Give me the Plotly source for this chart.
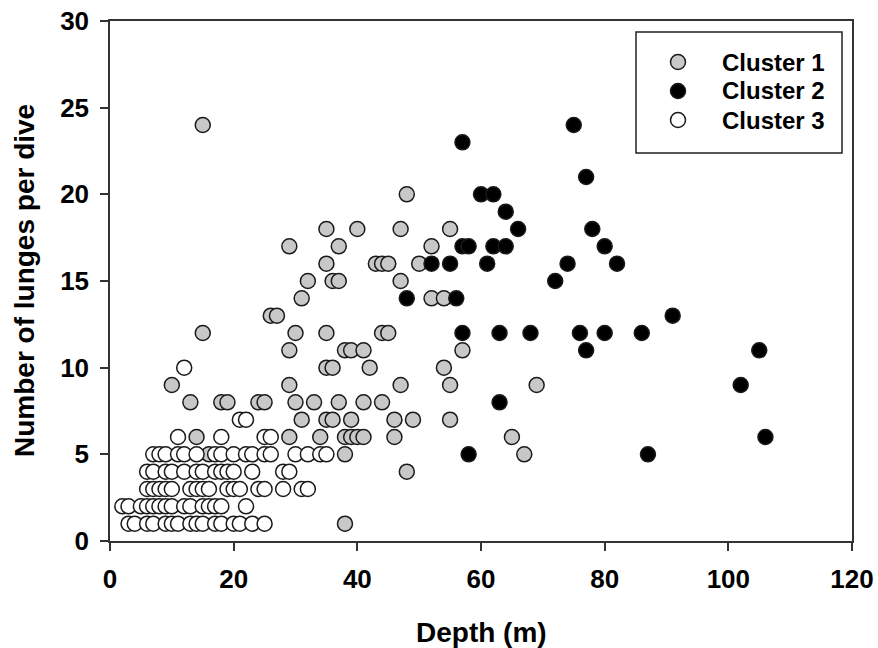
import plotly.graph_objects as go

# Cluster 1 (grey)
c1_depth = [15, 48, 35, 40, 47, 55, 29, 37, 52, 35, 43, 44, 45, 50, 32, 36, 37, 47,
            31, 52, 54, 26, 27, 15, 30, 35, 44, 45, 29, 38, 39, 41, 57, 35, 36, 42, 54,
            10, 29, 47, 55, 69, 13, 18, 19, 24, 25, 30, 33, 37, 41, 44,
            31, 35, 36, 39, 46, 49, 55, 14, 29, 34, 38, 39, 40, 41, 46, 65,
            16, 38, 67, 48, 38]
c1_lunges = [24, 20, 18, 18, 18, 18, 17, 17, 17, 16, 16, 16, 16, 16, 15, 15, 15, 15,
             14, 14, 14, 13, 13, 12, 12, 12, 12, 12, 11, 11, 11, 11, 11, 10, 10, 10, 10,
             9, 9, 9, 9, 9, 8, 8, 8, 8, 8, 8, 8, 8, 8, 8,
             7, 7, 7, 7, 7, 7, 7, 6, 6, 6, 6, 6, 6, 6, 6, 6,
             5, 5, 5, 4, 1]

# Cluster 2 (black)
c2_depth = [57, 75, 77, 60, 62, 64, 66, 78, 57, 58, 62, 64, 80, 52, 55, 61, 74, 82,
            72, 48, 56, 91, 57, 63, 68, 76, 80, 86, 77, 105, 102, 63, 106, 58, 87]
c2_lunges = [23, 24, 21, 20, 20, 19, 18, 18, 17, 17, 17, 17, 17, 16, 16, 16, 16, 16,
             15, 14, 14, 13, 12, 12, 12, 12, 12, 12, 11, 11, 9, 8, 6, 5, 5]

# Cluster 3 (white)
c3_depth = [12, 21, 22, 11, 18, 25, 26,
            7, 8, 9, 11, 12, 14, 17, 18, 20, 22, 23, 25, 26, 30, 32, 34, 35,
            6, 7, 9, 10, 12, 14, 15, 17, 18, 19, 20, 23, 28, 29,
            6, 7, 8, 9, 10, 13, 14, 15, 16, 19, 20, 21, 24, 25, 28, 31, 32,
            2, 3, 5, 6, 7, 8, 9, 10, 12, 13, 15, 16, 17, 18, 22,
            3, 4, 6, 7, 9, 10, 11, 13, 14, 15, 17, 18, 20, 21, 23, 25]
c3_lunges = [10, 7, 7, 6, 6, 6, 6,
             5, 5, 5, 5, 5, 5, 5, 5, 5, 5, 5, 5, 5, 5, 5, 5, 5,
             4, 4, 4, 4, 4, 4, 4, 4, 4, 4, 4, 4, 4, 4,
             3, 3, 3, 3, 3, 3, 3, 3, 3, 3, 3, 3, 3, 3, 3, 3, 3,
             2, 2, 2, 2, 2, 2, 2, 2, 2, 2, 2, 2, 2, 2, 2,
             1, 1, 1, 1, 1, 1, 1, 1, 1, 1, 1, 1, 1, 1, 1, 1]

names = ["Cluster 1", "Cluster 2", "Cluster 3"]
fills = ["#c8c8c8", "#000000", "#ffffff"]

FONT = "Liberation Sans, Arial, sans-serif"
EDGE = "#1a1a1a"

W, H = 878, 648
L, R, T, B = 110, 26, 21, 107
PW, PH = W - L - R, H - T - B


def px(xp):
    return (xp - L) / PW


def py(yp):
    return (H - B - yp) / PH


fig = go.Figure()
for name, xs, ys, col in zip(names, [c1_depth, c2_depth, c3_depth],
                             [c1_lunges, c2_lunges, c3_lunges], fills):
    fig.add_trace(go.Scatter(
        x=xs, y=ys, mode="markers", name=name, showlegend=False,
        marker=dict(size=15, color=col, line=dict(color=EDGE, width=1.5)),
    ))

axis_common = dict(
    showgrid=False, zeroline=False, showline=True, linecolor="#333333", linewidth=1.5,
    mirror=True, ticks="outside", ticklen=8, tickwidth=1.5, tickcolor="#333333",
    automargin=False,
    tickfont=dict(family=FONT, size=26, color="#000000", weight="bold"),
)

# Legend drawn as box + circle shapes + text annotations
shapes = [dict(type="rect", xref="paper", yref="paper",
               x0=px(636), x1=px(842), y0=py(153), y1=py(32),
               line=dict(color="#222222", width=1.5), fillcolor="rgba(0,0,0,0)")]
annotations = []
for i, (name, col) in enumerate(zip(names, fills)):
    ry = 62 + 29 * i
    shapes.append(dict(type="circle", xref="paper", yref="paper",
                       xsizemode="pixel", ysizemode="pixel",
                       xanchor=px(678), yanchor=py(ry),
                       x0=-7.5, x1=7.5, y0=-7.5, y1=7.5,
                       fillcolor=col, line=dict(color=EDGE, width=1.5)))
    annotations.append(dict(text=name, xref="paper", yref="paper",
                            x=px(720), y=py(ry), xanchor="left", yanchor="middle",
                            showarrow=False,
                            font=dict(family=FONT, size=24, color="#000000", weight="bold")))

annotations += [
    dict(text="Depth (m)", xref="paper", yref="paper", x=0.5, y=py(632),
         xanchor="center", yanchor="middle", showarrow=False,
         font=dict(family=FONT, size=28, color="#000000", weight="bold")),
    dict(text="Number of lunges per dive", xref="paper", yref="paper",
         x=px(24), y=0.5, xanchor="center", yanchor="middle",
         textangle=-90, showarrow=False,
         font=dict(family=FONT, size=28, color="#000000", weight="bold")),
]

fig.update_layout(
    width=W, height=H,
    margin=dict(l=L, r=R, t=T, b=B, autoexpand=False),
    paper_bgcolor="white", plot_bgcolor="white",
    xaxis=dict(range=[0, 120], dtick=20, tick0=0, ticklabelstandoff=6, **axis_common),
    yaxis=dict(range=[0, 30], dtick=5, tick0=0, ticklabelstandoff=6, **axis_common),
    showlegend=False,
    shapes=shapes,
    annotations=annotations,
)

fig.write_html(
    "out.html",
    config={"displayModeBar": False},
    post_script="document.body.style.margin='0';document.body.style.overflow='hidden';",
)
